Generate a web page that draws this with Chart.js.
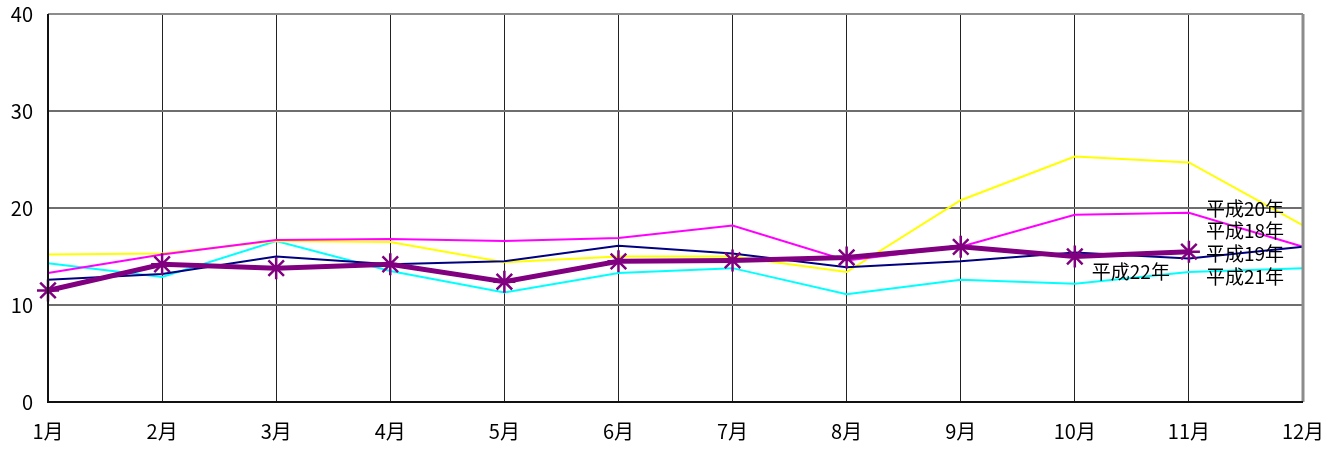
<!DOCTYPE html>
<html>
<head>
<meta charset="utf-8">
<script src="https://cdn.jsdelivr.net/npm/chart.js@4/dist/chart.umd.min.js"></script>
<style>
html,body{margin:0;padding:0;background:#fff;}
#wrap{width:1338px;height:454px;position:relative;}
</style>
</head>
<body>
<div id="wrap"><canvas id="c" width="1338" height="454"></canvas></div>
<script>
const months = ["1月","2月","3月","4月","5月","6月","7月","8月","9月","10月","11月","12月"];
const h22 = [11.5,14.2,13.8,14.2,12.4,14.5,14.6,14.9,16.0,15.0,15.5,null];
const h18 = [13.3,15.2,16.7,16.8,16.6,16.9,18.2,14.6,16.0,19.3,19.5,16.0];
const h19 = [12.6,13.2,15.0,14.2,14.5,16.1,15.3,13.9,14.5,15.4,14.8,16.0];
const h20 = [15.2,15.3,16.6,16.5,14.4,15.0,15.0,13.4,20.8,25.3,24.7,18.2];
const h21 = [14.3,12.9,16.6,13.5,11.3,13.3,13.8,11.1,12.6,12.2,13.4,13.8];
const seriesNames = ["平成22年","平成18年","平成19年","平成20年","平成21年"];
const yTicks = [0,10,20,30,40];
// label anchors: [month index, y value]
const labelAnchors = [[9,13.4],[10,17.6],[10,15.3],[10,19.9],[10,12.9]];

const FONT = '"Noto Sans CJK JP", "Noto Sans", sans-serif';

const labelPlugin = {
  id: 'seriesLabels',
  afterDatasetsDraw(chart) {
    const ctx = chart.ctx;
    const xs = chart.scales.x, ys = chart.scales.y;
    ctx.save();
    ctx.font = '19px ' + FONT;
    ctx.fillStyle = '#000';
    ctx.textAlign = 'left';
    ctx.textBaseline = 'middle';
    seriesNames.forEach((n, i) => {
      const a = labelAnchors[i];
      ctx.fillText(n, xs.getPixelForValue(a[0]) + 17, ys.getPixelForValue(a[1]));
    });
    ctx.restore();
  }
};

const borderPlugin = {
  id: 'frame',
  afterDraw(chart) {
    const {left, right, top, bottom} = chart.chartArea;
    const ctx = chart.ctx;
    ctx.save();
    ctx.lineWidth = 3;
    ctx.strokeStyle = '#8c8c8c';
    ctx.beginPath();
    ctx.moveTo(right, top); ctx.lineTo(right, bottom);
    ctx.stroke();
    ctx.lineWidth = 2;
    ctx.strokeStyle = '#111';
    ctx.beginPath();
    ctx.moveTo(left, top); ctx.lineTo(left, bottom); ctx.lineTo(right, bottom);
    ctx.stroke();
    ctx.restore();
  }
};

new Chart(document.getElementById('c'), {
  type: 'line',
  data: {
    labels: months,
    datasets: [
      {label: seriesNames[0], data: h22, borderColor: '#800080', backgroundColor: '#800080', borderWidth: 5,
       pointStyle: 'star', pointRadius: 11, pointBorderWidth: 2.5, pointBorderColor: '#800080', pointHoverRadius: 11},
      {label: seriesNames[2], data: h19, borderColor: '#000080', borderWidth: 2, pointRadius: 0},
      {label: seriesNames[1], data: h18, borderColor: '#ff00ff', borderWidth: 2, pointRadius: 0},
      {label: seriesNames[3], data: h20, borderColor: '#ffff00', borderWidth: 2, pointRadius: 0},
      {label: seriesNames[4], data: h21, borderColor: '#00ffff', borderWidth: 2, pointRadius: 0}
    ]
  },
  options: {
    responsive: false,
    animation: false,
    tension: 0,
    layout: {padding: {top: 14, right: 35, left: 0, bottom: 0}},
    plugins: {legend: {display: false}, tooltip: {enabled: false}},
    scales: {
      x: {
        offset: false,
        grid: {
          color: (c) => c.index === 11 ? '#8c8c8c' : '#222',
          lineWidth: 1,
          drawTicks: false
        },
        border: {display: false},
        ticks: {font: {family: FONT, size: 20}, color: '#000', padding: 17, maxRotation: 0, autoSkip: false},
        afterFit: (s) => { s.height = 52; s.paddingLeft = 0; s.paddingRight = 0; }
      },
      y: {
        min: 0, max: 40,
        afterBuildTicks: (s) => { s.ticks = yTicks.map(v => ({value: v})); },
        grid: {
          color: (c) => c.tick && c.tick.value === 40 ? '#8c8c8c' : '#6e6e6e',
          lineWidth: 2,
          drawTicks: false
        },
        border: {display: false},
        ticks: {font: {family: FONT, size: 20}, color: '#000', padding: 15},
        afterFit: (s) => { s.width = 48; s.paddingTop = 0; s.paddingBottom = 0; }
      }
    }
  },
  plugins: [labelPlugin, borderPlugin]
});
</script>
</body>
</html>
